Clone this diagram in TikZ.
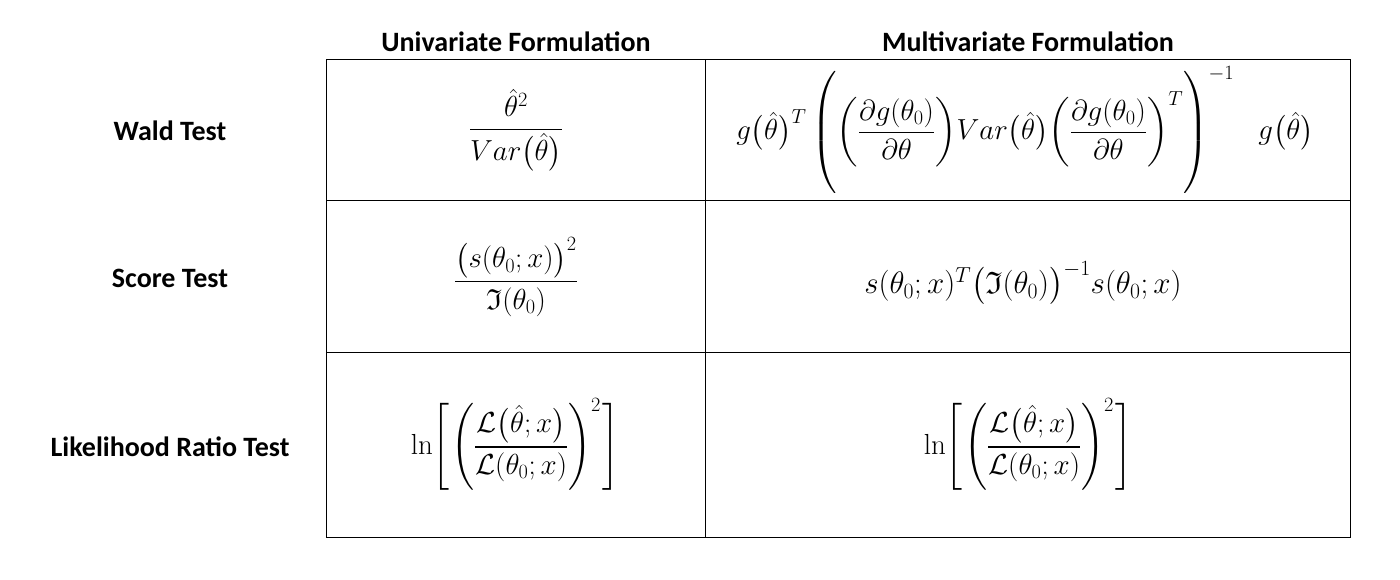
\RequirePackage{fix-cm}
\documentclass[tikz,border=0pt]{standalone}
\usepackage{amsmath,amssymb}
\usepackage{fontspec}
\newfontfamily\calibri{Carlito}
\newcommand{\lrratio}{\ln\mathopen{\left[\rule[-36pt]{0pt}{86pt}\right.}\smash{{\left(\frac{\mathcal{L}\big(\hat\theta;x\big)}{\mathcal{L}(\theta_0;x)}\right)}^{2}}\mathclose{\left.\rule[-36pt]{0pt}{86pt}\right]}}
\begin{document}
\begin{tikzpicture}[x=1pt,y=-1pt,
  hdr/.style={font=\calibri\fontsize{28}{32}\selectfont\bfseries, anchor=center, inner sep=0pt},
  frm/.style={font=\fontsize{29}{34}\selectfont, anchor=center, inner sep=0pt},
  grid/.style={line width=1pt, black}]
\useasboundingbox (0,0) rectangle (1400,579);
\fill[white] (0,0) rectangle (1400,579);
% grid
\draw[grid] (326.5,59.5) rectangle (1350.5,537.3);
\draw[grid] (326.5,200.7) -- (1350.5,200.7);
\draw[grid] (326.5,352.3) -- (1350.5,352.3);
\draw[grid] (705.7,59.5) -- (705.7,537.3);
% headers
\node[hdr] (hu) at (516,42) {Univariate Formulation};
\node[hdr] (hm) at (1028,42) {Multivariate Formulation};
\node[hdr] (rw) at (170,131) {Wald Test};
\node[hdr] (rs) at (170,278) {Score Test};
\node[hdr] (rl) at (170,447) {Likelihood Ratio Test};
% formulas
\node[frm] (wu) at (516,130) {$\displaystyle \frac{\hat\theta^{2}}{Var\big(\hat\theta\big)}$};
\node[frm] (wm) at (1025,130) {$\displaystyle g\big(\hat\theta\big)^{T}\,{\left(\rule[-49pt]{0pt}{112pt}{\left(\frac{\partial g(\theta_0)}{\partial\theta}\right)}Var\big(\hat\theta\big){\left(\frac{\partial g(\theta_0)}{\partial\theta}\right)}^{T}\right)}^{-1}\;\;\; g\big(\hat\theta\big)$};
\node[frm] (su) at (516,277) {$\displaystyle \frac{\big(s(\theta_0;x)\big)^{2}}{\mathfrak{I}(\theta_0)}$};
\node[frm,font=\fontsize{31}{36}\selectfont] (sm) at (1023,283) {$s(\theta_0;x)^{T}\big(\mathfrak{I}(\theta_0)\big)^{-1}s(\theta_0;x)$};
\node[frm] (lu) at (515,447) {$\displaystyle \lrratio$};
\node[frm] (lm) at (1028,447) {$\displaystyle \lrratio$};
\end{tikzpicture}
\end{document}
